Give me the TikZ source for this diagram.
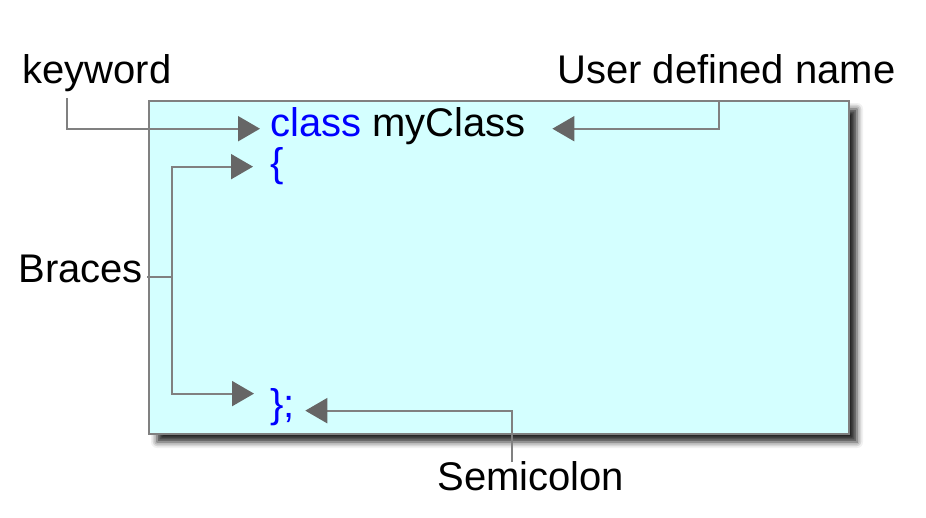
\documentclass[tikz,border=0pt]{standalone}
\usepackage{fontspec}
\setmainfont{Liberation Sans}
\usepackage{xcolor}
\usetikzlibrary{arrows.meta,shadows.blur}
\definecolor{boxfill}{HTML}{D4FFFF}
\definecolor{boxline}{HTML}{808080}
\definecolor{tipgray}{HTML}{666666}
\definecolor{codeblue}{HTML}{0000FF}
\begin{document}
\begin{tikzpicture}[x=0.5pt,y=-0.5pt,
    tagtext/.style={inner sep=0,font=\fontsize{20}{24}\selectfont,anchor=base west},
    codetext/.style={tagtext,text=codeblue},
    link/.style={draw=boxline,line width=1pt},
    pointer/.style={link,-{Triangle[length=11pt,width=12.5pt,color=tipgray]}}]
    \useasboundingbox (0,0) rectangle (926,518);
    \draw[fill=boxfill,draw=boxline,line width=1pt,
        blur shadow={shadow xshift=4pt,shadow yshift=-4pt,shadow blur radius=3pt,shadow opacity=85}]
        (149,101) rectangle (849,434);
    \node[tagtext] (kw) at (22,84) {keyword};
    \node[tagtext] (udn) at (557,84) {User defined name};
    \node[tagtext] (br) at (18,283) {Braces};
    \node[tagtext] (semi) at (437,490) {Semicolon};
    \node[tagtext] (cls) at (270,137) {\textcolor{codeblue}{class} myClass};
    \node[codetext] (lb) at (270,177) {\{};
    \node[codetext] (rb) at (270,417) {\};};
    \coordinate (kwtail) at (67,98);
    \coordinate (udntail) at (719,101);
    \coordinate (brjoin) at (172,277);
    \coordinate (semitail) at (512,462);
    \draw[pointer,shorten >=5pt] (kwtail) |- ([yshift=1.5pt]cls.mid west);
    \draw[pointer,shorten >=13pt] (udntail) |- ([yshift=1.5pt]cls.mid east);
    \draw[link,shorten <=2pt] (brjoin -| br.east) -- (brjoin);
    \draw[pointer,shorten >=8.5pt] (brjoin) |- (lb.west);
    \draw[pointer,shorten >=8pt] (brjoin) |- ([yshift=-3pt]rb.north west);
    \draw[pointer,shorten >=5pt] (semitail) |- ([yshift=-2pt]rb.east);
\end{tikzpicture}
\end{document}
